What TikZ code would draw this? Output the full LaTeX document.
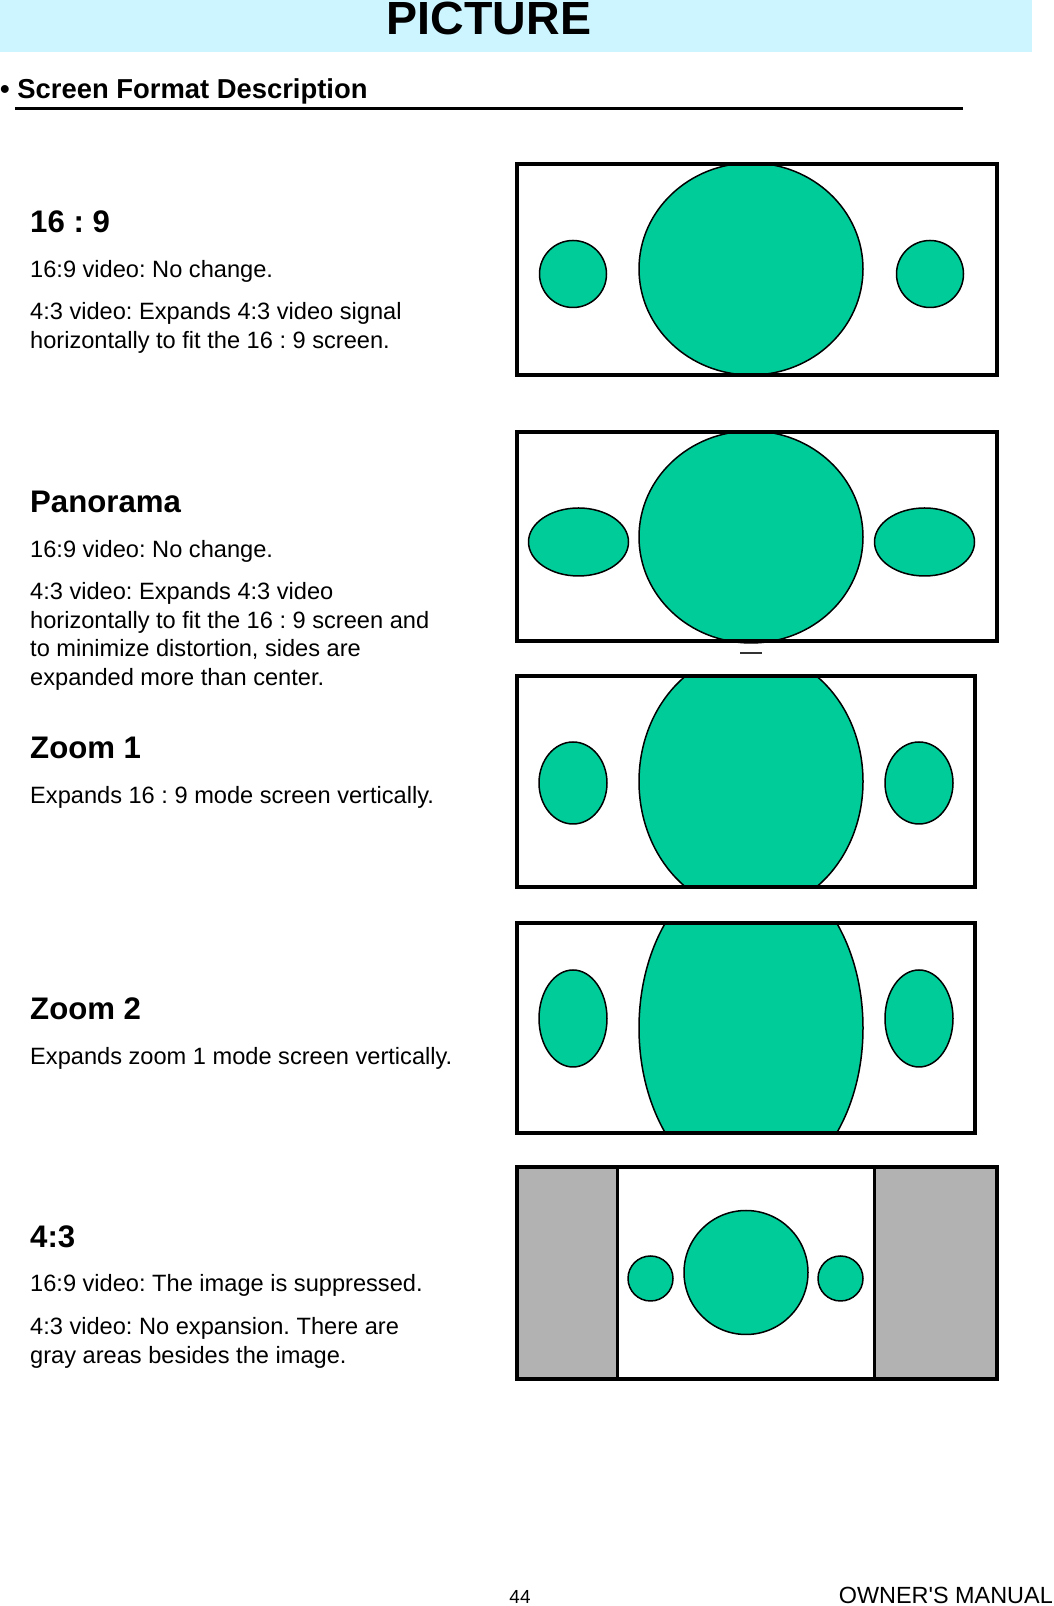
\documentclass[tikz,border=0pt]{standalone}
\usepackage{fontspec}
\setmainfont{Liberation Sans}
\frenchspacing
\definecolor{bandcyan}{HTML}{CCF5FF}
\definecolor{blobgreen}{HTML}{00CC99}
\definecolor{bargray}{HTML}{B2B2B2}
\tikzset{
  screen/.style={draw=black,line width=4bp},
  blob/.style={draw=black,fill=blobgreen,line width=1.5bp},
  modetitle/.style={anchor=base west,inner sep=0pt,font=\fontsize{31.3}{36}\selectfont\bfseries},
  modetext/.style={anchor=base west,inner sep=0pt,font=\fontsize{23.7}{28}\selectfont},
}
\begin{document}
\begin{tikzpicture}[line join=miter]
  \useasboundingbox (0bp,0bp) rectangle (1054bp,1606bp);
%%
  % Node: head
  \fill [bandcyan] (0bp,1554bp) rectangle (1032bp,1606bp);
  \node (head) at (489bp,1571bp) [anchor=base,inner sep=0pt,font=\fontsize{46.7}{50}\selectfont\bfseries] {PICTURE};
  % Node: section
  \node (section) at (0bp,1507bp) [anchor=base west,inner sep=0pt,font=\fontsize{27.5}{32}\selectfont\bfseries] {• Screen Format Description};
  \draw [line width=3.5bp] (15bp,1497.5bp) -- (963bp,1497.5bp);
  % Node: wide
\begin{scope}
  \node (wide) at (30bp,1373bp) [modetitle] {16 : 9};
  \node (wide1) at (30bp,1328bp) [modetext] {16:9 video: No change.};
  \node (wide2) at (30bp,1286bp) [modetext] {4:3 video: Expands 4:3 video signal};
  \node (wide3) at (30bp,1257bp) [modetext] {horizontally to fit the 16 : 9 screen.};
  \draw [blob] (751bp,1337bp) ellipse (112bp and 106bp);
  \draw [blob] (573bp,1332bp) circle (33.5bp);
  \draw [blob] (930bp,1332bp) circle (33.5bp);
  \draw [screen] (517bp,1231bp) rectangle (997bp,1442bp);
\end{scope}
  % Node: pano
\begin{scope}
  \node (pano) at (30bp,1093bp) [modetitle] {Panorama};
  \node (pano1) at (30bp,1048bp) [modetext] {16:9 video: No change.};
  \node (pano2) at (30bp,1006bp) [modetext] {4:3 video: Expands 4:3 video};
  \node (pano3) at (30bp,977.5bp) [modetext] {horizontally to fit the 16 : 9 screen and};
  \node (pano4) at (30bp,949bp) [modetext] {to minimize distortion, sides are};
  \node (pano5) at (30bp,920.5bp) [modetext] {expanded more than center.};
  \draw [blob] (751bp,1069bp) ellipse (112bp and 106bp);
  \draw [blob] (578.5bp,1064bp) ellipse (50bp and 34bp);
  \draw [blob] (924.5bp,1064bp) ellipse (50bp and 34bp);
  \draw [screen] (517bp,965bp) rectangle (997bp,1174bp);
  \draw [line width=1.5bp,black!80] (740bp,953bp) -- (762bp,953bp);
\end{scope}
  % Node: zoomone
\begin{scope}
  \node (zoomone) at (30bp,847bp) [modetitle] {Zoom 1};
  \node (zoomone1) at (30bp,802bp) [modetext] {Expands 16 : 9 mode screen vertically.};
  \begin{scope}
    \clip (517bp,719bp) rectangle (975bp,930bp);
    \draw [blob] (751bp,824.5bp) ellipse (112bp and 130bp);
  \end{scope}
  \draw [blob] (573bp,823bp) ellipse (34bp and 41bp);
  \draw [blob] (919bp,823bp) ellipse (34bp and 41bp);
  \draw [screen] (517bp,719bp) rectangle (975bp,930bp);
\end{scope}
  % Node: zoomtwo
\begin{scope}
  \node (zoomtwo) at (30bp,586bp) [modetitle] {Zoom 2};
  \node (zoomtwo1) at (30bp,541bp) [modetext] {Expands zoom 1 mode screen vertically.};
  \begin{scope}
    \clip (517bp,473bp) rectangle (975bp,683bp);
    \draw [blob] (751bp,578bp) ellipse (112bp and 163bp);
  \end{scope}
  \draw [blob] (573bp,587.5bp) ellipse (34bp and 48.5bp);
  \draw [blob] (919bp,587.5bp) ellipse (34bp and 48.5bp);
  \draw [screen] (517bp,473bp) rectangle (975bp,683bp);
\end{scope}
  % Node: four
\begin{scope}
  \node (four) at (30bp,358bp) [modetitle] {4:3};
  \node (four1) at (30bp,314bp) [modetext] {16:9 video: The image is suppressed.};
  \node (four2) at (30bp,271bp) [modetext] {4:3 video: No expansion. There are};
  \node (four3) at (30bp,242bp) [modetext] {gray areas besides the image.};
  \fill [bargray] (517bp,227bp) rectangle (617bp,439bp);
  \fill [bargray] (874bp,227bp) rectangle (997bp,439bp);
  \draw [line width=3bp] (617bp,227bp) -- (617bp,439bp);
  \draw [line width=3bp] (874bp,227bp) -- (874bp,439bp);
  \draw [blob] (746bp,333.5bp) circle (62bp);
  \draw [blob] (650.5bp,327.5bp) circle (22.5bp);
  \draw [blob] (840.5bp,327.5bp) circle (22.5bp);
  \draw [screen] (517bp,227bp) rectangle (997bp,439bp);
\end{scope}
  % Node: footer
  \node (page) at (520bp,3bp) [anchor=base,inner sep=0pt,font=\fontsize{19}{22}\selectfont] {44};
  \node (manual) at (1053bp,3bp) [anchor=base east,inner sep=0pt,font=\fontsize{23.5}{28}\selectfont] {OWNER\textquotesingle S MANUAL};
%
\end{tikzpicture}
\end{document}
